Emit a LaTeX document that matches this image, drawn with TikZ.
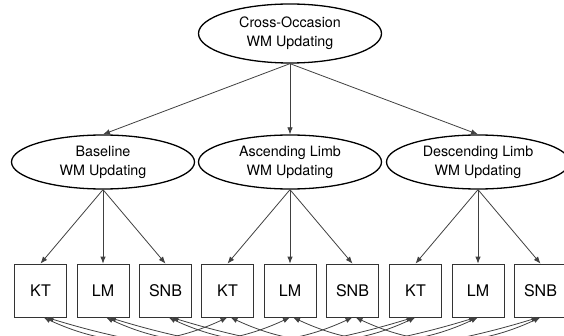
\documentclass[tikz,border=0pt]{standalone}
\usepackage{fontspec}
\setmainfont{TeX Gyre Heros}
\usetikzlibrary{arrows.meta,shapes.geometric}
\begin{document}
\begin{tikzpicture}[x=1pt,y=1pt,
  lat/.style={ellipse, draw=black, line width=1.3pt, minimum width=183pt, minimum height=54pt, inner sep=0pt, align=center, font=\fontsize{14.3}{18.7}\selectfont},
  obs/.style={rectangle, draw=black!80, line width=0.8pt, minimum width=52pt, minimum height=53pt, inner sep=0pt, font=\fontsize{16}{19}\selectfont},
  arr/.style={draw=black!75, line width=0.8pt, -{Latex[length=7pt,width=5.5pt]}},
  cov/.style={draw=black!75, line width=0.8pt, {Latex[length=7pt,width=5.5pt]}-{Latex[length=7pt,width=5.5pt]}}]
\useasboundingbox (0,0) rectangle (564,335);
\node[lat, minimum height=59pt] (top) at (290,301.5) {Cross-Occasion\\WM Updating};
\node[lat] (b) at (103,173) {Baseline\\WM Updating};
\node[lat] (a) at (290,173) {Ascending Limb\\WM Updating};
\node[lat] (d) at (478,173) {Descending Limb\\WM Updating};
\node[obs] (kt1) at (40.5,44.5) {KT};
\node[obs] (lm1) at (103,44.5) {LM};
\node[obs] (snb1) at (165.5,44.5) {SNB};
\node[obs] (kt2) at (227.5,44.5) {KT};
\node[obs] (lm2) at (290,44.5) {LM};
\node[obs] (snb2) at (352.5,44.5) {SNB};
\node[obs] (kt3) at (415.5,44.5) {KT};
\node[obs] (lm3) at (478,44.5) {LM};
\node[obs] (snb3) at (540.5,44.5) {SNB};
\foreach \m in {b,a,d} \draw[arr] (top.south) -- (\m.north);
\foreach \m/\i in {b/1,a/2,d/3} {
  \draw[arr] (\m.south) -- (kt\i.north);
  \draw[arr] (\m.south) -- (lm\i.north);
  \draw[arr] (\m.south) -- (snb\i.north);
}
\foreach \t in {kt,lm,snb} {
  \draw[cov] ([xshift=3pt]\t1.south) to[bend right=25] (\t2.south);
  \draw[cov] ([xshift=3pt]\t2.south) to[bend right=25] (\t3.south);
  \draw[cov] ([xshift=6pt]\t1.south) to[bend right=17] ([xshift=-2pt]\t3.south);
}
\end{tikzpicture}
\end{document}
